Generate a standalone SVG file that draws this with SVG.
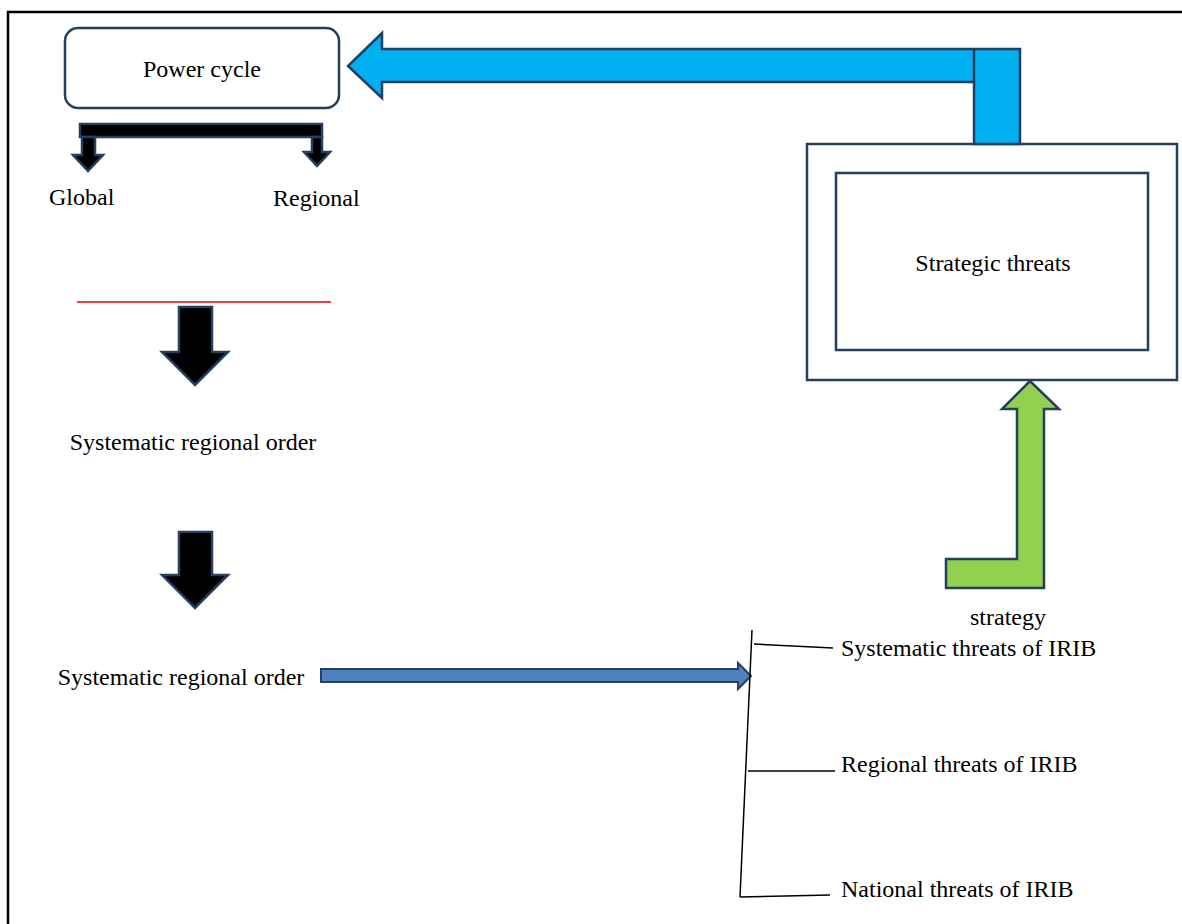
<svg xmlns="http://www.w3.org/2000/svg" width="1182" height="924" viewBox="0 0 1182 924">
<style>
.t{font-family:"Liberation Serif","Times New Roman",serif;font-size:24px;fill:#000}
.nav{stroke:#243f60;stroke-width:2.5;fill:#fff}
.blk{fill:#000;stroke:#243f60;stroke-width:2.5;stroke-linejoin:miter}
.ln{stroke:#000;stroke-width:1.5;fill:none}
</style>
<rect width="1182" height="924" fill="#fff"/>
<path d="M8 924 V12 H1182" fill="none" stroke="#000" stroke-width="2.5"/>

<g id="power-cycle">
<rect x="65" y="28" width="274" height="80" rx="13" class="nav"/>
<text x="202" y="77" text-anchor="middle" class="t">Power cycle</text>
</g>

<g id="global">
<text x="49" y="205" class="t">Global</text>
</g>
<g id="regional">
<text x="273" y="206" class="t">Regional</text>
</g>

<g id="strategic-threats">
<rect x="807" y="144" width="370" height="236" class="nav"/>
<rect x="836" y="173" width="312" height="177" class="nav"/>
<text x="993" y="271" text-anchor="middle" class="t">Strategic threats</text>
</g>

<g id="order-1">
<text x="193" y="450" text-anchor="middle" class="t">Systematic regional order</text>
</g>
<g id="order-2">
<text x="181" y="685" text-anchor="middle" class="t">Systematic regional order</text>
</g>

<g id="strategy">
<text x="1008" y="625" text-anchor="middle" class="t">strategy</text>
</g>

<g id="systematic-threats">
<text x="841" y="656" class="t">Systematic threats of IRIB</text>
</g>
<g id="regional-threats">
<text x="841" y="772" class="t">Regional threats of IRIB</text>
</g>
<g id="national-threats">
<text x="841" y="897" class="t">National threats of IRIB</text>
</g>

<g id="connectors">
<!-- bracket from power cycle -->
<path class="blk" d="M80 124 H322 V137 H80 Z"/>
<path class="blk" d="M82 137 H95 V155 H103 L88 171 L73 155 H82 Z"/>
<path class="blk" d="M312 137 H322 V152 H330 L317 166 L304 152 H312 Z"/>

<!-- red line -->
<line x1="77" y1="302" x2="331" y2="302" stroke="#e00000" stroke-width="1.5"/>

<!-- black down arrows -->
<path class="blk" d="M179 307 H212 V352 H228 L195 385 L162 352 H179 Z"/>
<path class="blk" d="M179 532 H212 V575 H228 L195 608 L162 575 H179 Z"/>

<!-- blue horizontal arrow -->
<path d="M321 669 H738 V663 L751 676 L738 689 V682 H321 Z" fill="#4f81bd" stroke="#243f60" stroke-width="2"/>

<!-- bracket lines -->
<line class="ln" x1="752" y1="630" x2="740" y2="897"/>
<line class="ln" x1="754" y1="644" x2="833" y2="648"/>
<line class="ln" x1="748" y1="771" x2="835" y2="771"/>
<line class="ln" x1="740" y1="897" x2="830" y2="895"/>

<!-- cyan elbow arrow -->
<path d="M1020 144 V49 H382 V33 L348 66 L382 98 V82 H974 V144 Z" fill="#00b0f0" stroke="#243f60" stroke-width="2.5" stroke-linejoin="miter"/>
<line x1="974" y1="49" x2="974" y2="82" stroke="#243f60" stroke-width="2.5"/>

<!-- green elbow arrow -->
<path d="M946 559 H1017 V409 H1002 L1030 381 L1059 409 H1044 V588 H946 Z" fill="#92d050" stroke="#243f60" stroke-width="2.5" stroke-linejoin="miter"/>
</g>
</svg>
